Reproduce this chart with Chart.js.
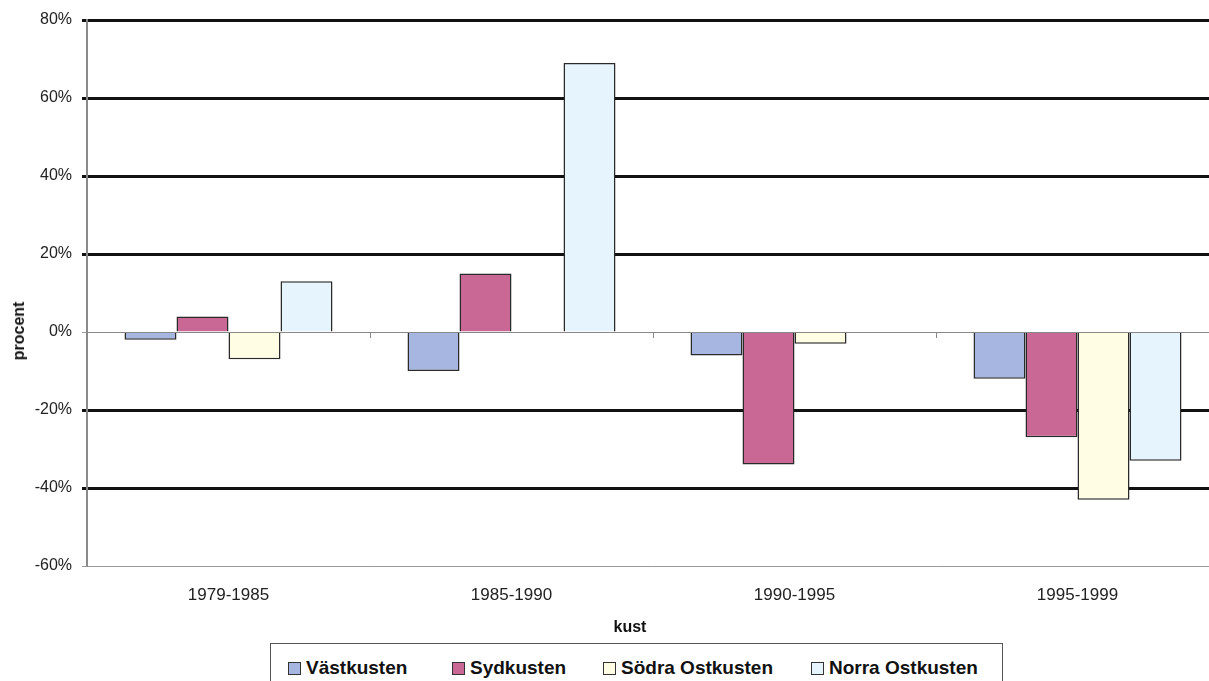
<!DOCTYPE html>
<html>
<head>
<meta charset="utf-8">
<script src="https://cdn.jsdelivr.net/npm/chart.js@4.4.0/dist/chart.umd.min.js"></script>
<style>
  html, body { margin: 0; padding: 0; background: #fff; overflow: hidden; width: 1209px; height: 681px; }
  #wrap { position: relative; width: 1209px; height: 681px; overflow: hidden; }
  canvas { position: absolute; left: 0; top: 0; }
  .axtitle { position: absolute; font-family: "Liberation Sans", Arial, sans-serif; font-weight: bold; font-size: 16px; color: #111; white-space: nowrap; }
  #ytitle { left: 19px; top: 331px; transform: translate(-50%, -50%) rotate(-90deg); }
  #xtitle { left: 630px; top: 627px; transform: translate(-50%, -50%); }
  #legend { position: absolute; left: 270px; top: 643px; width: 733px; height: 60px; border: 1px solid #555; box-sizing: border-box; background: #fff;
            font-family: "Liberation Sans", Arial, sans-serif; font-weight: bold; font-size: 19px; color: #111; }
  .item { position: absolute; top: 13px; display: flex; align-items: center; white-space: nowrap; }
  .sw { width: 11px; height: 11px; border: 1.5px solid #333; margin-right: 5px; }
</style>
</head>
<body>
<div id="wrap">
  <canvas id="c" width="1219" height="681"></canvas>
  <div id="ytitle" class="axtitle">procent</div>
  <div id="xtitle" class="axtitle">kust</div>
  <div id="legend"></div>
</div>
<script>
const categories = ["1979-1985", "1985-1990", "1990-1995", "1995-1999"];
const seriesNames = ["Västkusten", "Sydkusten", "Södra Ostkusten", "Norra Ostkusten"];
const vastkusten = [-2, -10, -6, -12];
const sydkusten = [4, 15, -34, -27];
const sodraOstkusten = [-7, 0, -3, -43];
const norraOstkusten = [13, 69, 0, -33];
const yTicks = [-60, -40, -20, 0, 20, 40, 60, 80];
const colors = ["#A6B6E0", "#C96895", "#FFFDE3", "#E6F5FD"];

const seriesValues = [vastkusten, sydkusten, sodraOstkusten, norraOstkusten];

const catTicksPlugin = {
  id: 'catTicks',
  afterDatasetsDraw(chart) {
    const ctx = chart.ctx;
    const x = chart.scales.x, y = chart.scales.y;
    const y0 = y.getPixelForValue(0);
    ctx.save();
    ctx.strokeStyle = '#888';
    ctx.lineWidth = 1;
    // zero axis line on top
    ctx.beginPath();
    ctx.moveTo(chart.chartArea.left, Math.round(y0) + 0.5);
    ctx.lineTo(chart.chartArea.right, Math.round(y0) + 0.5);
    ctx.stroke();
    for (let i = 0; i <= categories.length; i++) {
      const px = Math.round(x.getPixelForValue(i - 0.5)) + 0.5;
      ctx.beginPath();
      ctx.moveTo(px, y0);
      ctx.lineTo(px, y0 + 6);
      ctx.stroke();
    }
    ctx.restore();
  }
};

const chart = new Chart(document.getElementById('c'), {
  type: 'bar',
  data: {
    labels: categories,
    datasets: seriesNames.map((n, i) => ({
      label: n,
      data: seriesValues[i],
      backgroundColor: colors[i],
      borderColor: '#2a2a2a',
      borderWidth: 1.5,
      categoryPercentage: 0.735,
      barPercentage: 1.0
    }))
  },
  options: {
    responsive: false,
    animation: false,
    devicePixelRatio: 1,
    layout: { padding: { left: 0, right: 0, top: 20, bottom: 0 } },
    plugins: { legend: { display: false }, tooltip: { enabled: false } },
    scales: {
      x: {
        grid: { display: false, drawTicks: false },
        border: { display: false },
        ticks: { color: '#222', font: { family: 'Liberation Sans', size: 17 }, padding: 19, maxRotation: 0 },
        afterFit(s) { s.height = 115; }
      },
      y: {
        min: -60, max: 80,
        afterBuildTicks(s) { s.ticks = yTicks.map(v => ({ value: v })); },
        ticks: { color: '#222', font: { family: 'Liberation Sans', size: 16 }, padding: 10, callback: v => v + '%' },
        grid: {
          drawTicks: true, tickLength: 5,
          color: c => (c.tick && (c.tick.value === 0 || c.tick.value === -60)) ? '#999' : '#111',
          lineWidth: c => (c.tick && (c.tick.value === 0 || c.tick.value === -60)) ? 1 : 3
        },
        border: { display: true, color: '#8a8a8a', width: 2 },
        afterFit(s) { s.width = 87; }
      }
    }
  },
  plugins: [catTicksPlugin]
});

// HTML legend built from the datasets
const legendEl = document.getElementById('legend');
const itemX = [17, 181, 332, 540];
chart.data.datasets.forEach((ds, i) => {
  const it = document.createElement('div');
  it.className = 'item';
  it.style.left = itemX[i] + 'px';
  const sw = document.createElement('span');
  sw.className = 'sw';
  sw.style.background = ds.backgroundColor;
  const tx = document.createElement('span');
  tx.textContent = ds.label;
  it.appendChild(sw); it.appendChild(tx);
  legendEl.appendChild(it);
});
</script>
</body>
</html>
